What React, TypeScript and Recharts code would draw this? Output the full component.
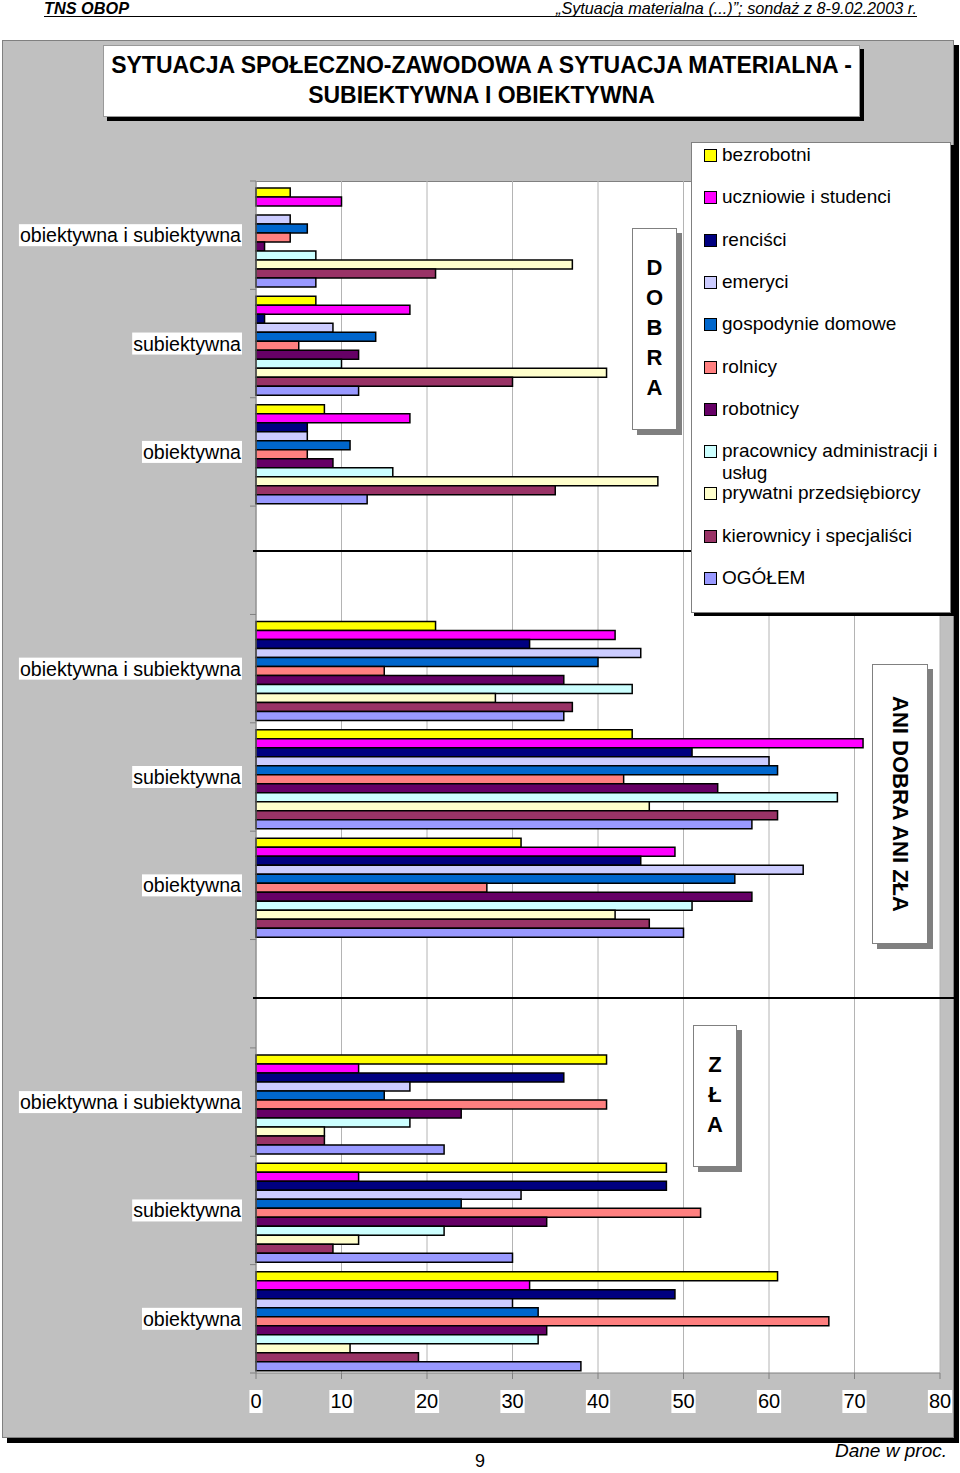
import React from 'react';
import { BarChart, Bar, XAxis, YAxis, CartesianGrid } from 'recharts';

const FONT = '"Liberation Sans", Arial, Helvetica, sans-serif';
const NARROW = '"Liberation Sans Narrow", "Liberation Sans", Arial, sans-serif';

// chart data
const sections = ['DOBRA', 'ANI DOBRA ANI ZŁA', 'ZŁA'];
const categories = ['obiektywna i subiektywna', 'subiektywna', 'obiektywna'];
const xTicks = [0, 10, 20, 30, 40, 50, 60, 70, 80];

const seriesNames = [
  'bezrobotni',
  'uczniowie i studenci',
  'renciści',
  'emeryci',
  'gospodynie domowe',
  'rolnicy',
  'robotnicy',
  'pracownicy administracji i usług',
  'prywatni przedsiębiorcy',
  'kierownicy i specjaliści',
  'OGÓŁEM',
];
const seriesColors = [
  '#FFFF00', '#FF00FF', '#000080', '#CCCCFF', '#0066CC', '#FF8080',
  '#660066', '#CCFFFF', '#FFFFCC', '#993366', '#9999FF',
];

// order: DOBRA (obj. i subj., subj., obj.), ANI DOBRA ANI ZŁA (...), ZŁA (...)
const bezrobotni = [4, 7, 8, 21, 44, 31, 41, 48, 61];
const uczniowie = [10, 18, 18, 42, 71, 49, 12, 12, 32];
const rencisci = [0, 1, 6, 32, 51, 45, 36, 48, 49];
const emeryci = [4, 9, 6, 45, 60, 64, 18, 31, 30];
const gospodynie = [6, 14, 11, 40, 61, 56, 15, 24, 33];
const rolnicy = [4, 5, 6, 15, 43, 27, 41, 52, 67];
const robotnicy = [1, 12, 9, 36, 54, 58, 24, 34, 34];
const pracownicy = [7, 10, 16, 44, 68, 51, 18, 22, 33];
const przedsiebiorcy = [37, 41, 47, 28, 46, 42, 8, 12, 11];
const kierownicy = [21, 30, 35, 37, 61, 46, 8, 9, 19];
const ogolem = [7, 12, 13, 36, 58, 50, 22, 30, 38];

const seriesValues = [
  bezrobotni, uczniowie, rencisci, emeryci, gospodynie, rolnicy,
  robotnicy, pracownicy, przedsiebiorcy, kierownicy, ogolem,
];

// one empty category between sections, like the original
const rows: any[] = [];
sections.forEach((_s, si) => {
  if (si > 0) rows.push({ id: `gap${si}`, label: '' });
  categories.forEach((c, ci) => {
    const row: any = { id: `s${si}c${ci}`, label: c };
    seriesValues.forEach((vals, k) => {
      row[`k${k}`] = vals[si * 3 + ci];
    });
    rows.push(row);
  });
});

const PLOT_LEFT = 256;
const PLOT_TOP = 181;
const PLOT_RIGHT = 940;
const PLOT_BOTTOM = 1373;
const BAND = (PLOT_BOTTOM - PLOT_TOP) / rows.length;

let ctx: any = null;
const measure = (text: string, font: string) => {
  if (!ctx) ctx = document.createElement('canvas').getContext('2d');
  ctx.font = font;
  return ctx.measureText(text).width;
};

const YTick = ({ y, payload, index }: any) => {
  const row = rows.find((r) => r.id === payload.value);
  const label = row ? row.label : '';
  const w = label ? measure(label, `19.6px ${FONT}`) : 0;
  return (
    <g>
      {index === 0 && (
        <line x1={250} x2={PLOT_LEFT} y1={y - BAND / 2} y2={y - BAND / 2} stroke="#808080" />
      )}
      <line x1={250} x2={PLOT_LEFT} y1={y + BAND / 2} y2={y + BAND / 2} stroke="#808080" />
      {label && (
        <>
          <rect x={241 - w - 1} y={y - 11} width={w + 2} height={22} fill="#fff" />
          <text x={241} y={y + 7} textAnchor="end" fontSize={19.6} fontFamily={FONT} fill="#000">
            {label}
          </text>
        </>
      )}
    </g>
  );
};

const XTick = ({ x, y, payload }: any) => {
  const t = String(payload.value);
  const w = measure(t, `20px ${FONT}`);
  return (
    <g>
      <rect x={x - w / 2 - 1} y={y + 9} width={w + 2} height={23} fill="#fff" />
      <text x={x} y={y + 27} textAnchor="middle" fontSize={20} fontFamily={FONT} fill="#000">
        {t}
      </text>
    </g>
  );
};

const abs = (l: number, t: number, w: number, h: number, extra: any = {}) => ({
  position: 'absolute' as const,
  left: l,
  top: t,
  width: w,
  height: h,
  boxSizing: 'border-box' as const,
  ...extra,
});

const Letters = ({ text }: { text: string }) => (
  <div style={{ paddingTop: 24 }}>
    {text.split('').map((ch, i) => (
      <div key={i} style={{ height: 30, lineHeight: '30px', textAlign: 'center' }}>
        {ch}
      </div>
    ))}
  </div>
);

export default function App() {
  return (
    <div style={abs(0, 0, 960, 1473, { background: '#fff', fontFamily: FONT, overflow: 'hidden' })}>
      {/* header */}
      <svg style={abs(0, 0, 960, 22)} width={960} height={22}>
        <text x={44} y={14} fontSize={17} fontFamily={NARROW} fontWeight="bold" fontStyle="italic"
          textLength={85} lengthAdjust="spacingAndGlyphs">TNS OBOP</text>
        <text x={917} y={14} fontSize={17} fontFamily={NARROW} fontStyle="italic" textAnchor="end"
          textLength={361} lengthAdjust="spacingAndGlyphs">„Sytuacja materialna (...)”; sondaż z 8-9.02.2003 r.</text>
        <line x1={44} x2={917} y1={16.5} y2={16.5} stroke="#000" strokeWidth={1} />
      </svg>

      {/* gray chart panel */}
      <div style={abs(2, 40, 952, 1398, { background: '#C0C0C0', border: '1px solid #808080', boxShadow: '5px 5px 0 #000' })} />

      {/* plot area background */}
      <div style={abs(PLOT_LEFT, PLOT_TOP, PLOT_RIGHT - PLOT_LEFT, PLOT_BOTTOM - PLOT_TOP, { background: '#fff', borderTop: '1px solid #808080' })} />

      <div style={abs(0, 0, 960, 1473)}>
        <BarChart
          width={960}
          height={1473}
          data={rows}
          layout="vertical"
          margin={{ top: PLOT_TOP, right: 960 - PLOT_RIGHT, bottom: 0, left: 0 }}
          barCategoryGap={7}
          barGap={0}
        >
          <CartesianGrid horizontal={false} stroke="#b4b4b4" />
          <XAxis
            type="number"
            domain={[0, 80]}
            ticks={xTicks}
            interval={0}
            height={1473 - PLOT_BOTTOM}
            axisLine={{ stroke: '#808080' }}
            tickLine={{ stroke: '#808080' }}
            tickSize={6}
            tick={<XTick />}
          />
          <YAxis
            type="category"
            dataKey="id"
            width={PLOT_LEFT}
            interval={0}
            axisLine={{ stroke: '#808080' }}
            tickLine={false}
            tick={<YTick />}
          />
          {seriesNames.map((name, k) => (
            <Bar
              key={name}
              dataKey={`k${k}`}
              name={name}
              fill={seriesColors[k]}
              stroke="#000"
              strokeWidth={1.5}
              isAnimationActive={false}
            />
          ))}
        </BarChart>
      </div>

      {/* section separators */}
      <div style={abs(253, 550, 440, 2, { background: '#000' })} />
      <div style={abs(253, 997, 702, 2, { background: '#000' })} />

      {/* title */}
      <div style={abs(103, 45, 757, 72, {
        background: '#fff', border: '1px solid #999', boxShadow: '4px 4px 0 #000',
        fontWeight: 'bold', fontSize: 23, lineHeight: '30px', textAlign: 'center', paddingTop: 4, whiteSpace: 'nowrap',
      })}>
        SYTUACJA SPOŁECZNO-ZAWODOWA A SYTUACJA MATERIALNA -<br />SUBIEKTYWNA I OBIEKTYWNA
      </div>

      {/* section labels */}
      <div style={abs(632, 228, 45, 202, {
        background: '#fff', border: '1px solid #808080', boxShadow: '5px 5px 0 #808080',
        fontWeight: 'bold', fontSize: 22,
      })}>
        <Letters text={sections[0]} />
      </div>
      <div style={abs(872, 664, 56, 280, {
        background: '#fff', border: '1px solid #808080', boxShadow: '5px 5px 0 #808080',
        display: 'flex', alignItems: 'center', justifyContent: 'center',
      })}>
        <div style={{ writingMode: 'vertical-rl', fontWeight: 'bold', fontSize: 22, whiteSpace: 'nowrap' }}>
          {sections[1]}
        </div>
      </div>
      <div style={abs(693, 1025, 44, 142, {
        background: '#fff', border: '1px solid #808080', boxShadow: '5px 5px 0 #808080',
        fontWeight: 'bold', fontSize: 22,
      })}>
        <Letters text={sections[2]} />
      </div>

      {/* legend */}
      <div style={abs(691, 142, 260, 471, { background: '#fff', border: '1px solid #808080', boxShadow: '3px 3px 0 #000' })}>
        {seriesNames.map((name, k) => (
          <div key={name} style={abs(12, 12 + k * 42.3 - 11, 240, 50)}>
            <div style={abs(0, 5, 13, 13, { background: seriesColors[k], border: '1.5px solid #000' })} />
            <div style={{ position: 'absolute', left: 18, top: 0, width: 230, fontSize: 19, lineHeight: '22px' }}>
              {name}
            </div>
          </div>
        ))}
      </div>

      {/* footer */}
      <svg style={abs(440, 1446, 80, 27)} width={80} height={27}>
        <text x={40} y={21} fontSize={18} fontFamily={FONT} textAnchor="middle">9</text>
      </svg>
      <svg style={abs(700, 1435, 260, 30)} width={260} height={30}>
        <text x={247} y={22} fontSize={19} fontFamily={FONT} fontStyle="italic" textAnchor="end"
          textLength={112} lengthAdjust="spacingAndGlyphs">Dane w proc.</text>
      </svg>
    </div>
  );
}
